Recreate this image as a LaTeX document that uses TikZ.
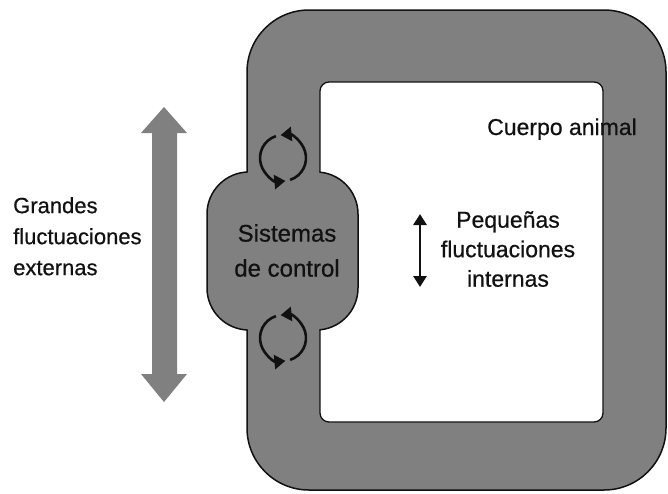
\documentclass[tikz,border=0pt]{standalone}
\usepackage{fontspec}
\setmainfont{Liberation Sans}[FakeBold=0.6]
\usetikzlibrary{arrows.meta}
\definecolor{body}{HTML}{808080}
\definecolor{ink}{HTML}{111111}
\begin{document}
\begin{tikzpicture}[x=1pt,y=-1pt, line join=round,
  lbl/.style={inner sep=0pt, text=ink},
  loopar/.style={line width=2.6pt, draw=ink, -{Triangle[length=11pt,width=14pt]}},
  edge/.style={line width=1.5pt, draw=ink},
]
\useasboundingbox (0,0) rectangle (668,493);
\fill[white] (0,0) rectangle (668,493);
% outer body
\draw[edge, fill=body, rounded corners=62pt] (247,10) rectangle (666,490);
\draw[edge, line width=1.3pt, fill=white, rounded corners=9pt] (320,82) rectangle (603,422);
% control blob
\fill[body, rounded corners=42pt] (207,172) rectangle (358,330);
\begin{scope}
\clip (0,0) rectangle (247.6,493) (319.4,0) rectangle (668,493);
\draw[edge, rounded corners=42pt] (207,172) rectangle (358,330);
\end{scope}
% feedback loops (angles in canvas convention, y up)
\coordinate (lt) at (283,158);
\coordinate (lb) at (283,338);
\draw[loopar] ([shift={(-72:23pt)}]lt) arc[start angle=-72, end angle=96, radius=23pt];
\draw[loopar] ([shift={(108:23pt)}]lt) arc[start angle=108, end angle=276, radius=23pt];
\draw[loopar] ([shift={(-72:23pt)}]lb) arc[start angle=-72, end angle=96, radius=23pt];
\draw[loopar] ([shift={(108:23pt)}]lb) arc[start angle=108, end angle=276, radius=23pt];
% big external arrow
\fill[body] (164,107) -- (187,133) -- (177,133) -- (177,374) -- (187,374) -- (164,402)
  -- (141,374) -- (152,374) -- (152,133) -- (141,133) -- cycle;
% small internal arrow
\coordinate (sa) at (420,214);
\coordinate (sb) at (420,287);
\draw[line width=2.8pt, ink, {Triangle[length=11pt,width=13pt]}-{Triangle[length=11pt,width=13pt]}] (sa) -- (sb);
% texts
\node[lbl, anchor=north west, align=left, font=\fontsize{22}{31}\selectfont] (ext) at (13,197) {Grandes\\fluctuaciones\\externas};
\node[lbl, anchor=north, align=center, font=\fontsize{23}{29.5}\selectfont] (int) at (508,211) {Pequeñas\\fluctuaciones\\internas};
\node[lbl, anchor=north, align=center, font=\fontsize{24}{35}\selectfont] (ctl) at (287,224) {Sistemas\\de control};
\node[lbl, anchor=base west, font=\fontsize{23}{28}\selectfont] (cuerpo) at (487,135) {Cuerpo animal};
\end{tikzpicture}
\end{document}
